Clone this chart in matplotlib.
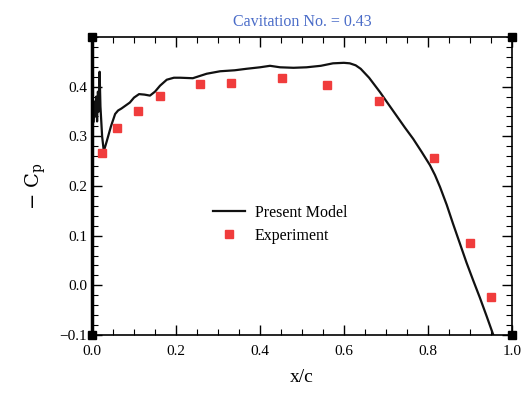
import numpy as np
import matplotlib.pyplot as plt
from matplotlib.ticker import MultipleLocator

plt.rcParams['font.family'] = ['Liberation Serif', 'DejaVu Serif']
plt.rcParams['mathtext.fontset'] = 'dejavuserif'

# present model
x_model = [0.004, 0.006, 0.008, 0.010, 0.012, 0.014, 0.016, 0.018, 0.020, 0.024,
           0.028, 0.035, 0.045, 0.055, 0.062, 0.070, 0.080, 0.090, 0.100, 0.112,
           0.125, 0.138, 0.150, 0.162, 0.178, 0.195, 0.210, 0.240, 0.273, 0.305,
           0.340, 0.368, 0.400, 0.424, 0.448, 0.480, 0.511, 0.545, 0.574, 0.600,
           0.614, 0.628, 0.640, 0.660, 0.686, 0.705, 0.725, 0.745, 0.765, 0.785,
           0.805, 0.817, 0.829, 0.845, 0.860, 0.876, 0.892, 0.908, 0.924, 0.940, 0.956]
cp_model = [0.33, 0.37, 0.34, 0.38, 0.33, 0.39, 0.35, 0.43, 0.36, 0.30,
            0.27, 0.29, 0.32, 0.345, 0.352, 0.356, 0.362, 0.368, 0.378, 0.385,
            0.384, 0.382, 0.390, 0.402, 0.414, 0.418, 0.418, 0.417, 0.426, 0.431,
            0.433, 0.436, 0.439, 0.442, 0.439, 0.438, 0.439, 0.442, 0.447, 0.448,
            0.447, 0.443, 0.436, 0.418, 0.389, 0.366, 0.342, 0.318, 0.295, 0.269,
            0.242, 0.222, 0.198, 0.162, 0.124, 0.085, 0.046, 0.010, -0.025, -0.062, -0.100]

# experiment
x_exp = [0.024, 0.060, 0.110, 0.162, 0.257, 0.330, 0.452, 0.560, 0.683, 0.814, 0.900, 0.950]
cp_exp = [0.267, 0.317, 0.352, 0.382, 0.406, 0.408, 0.418, 0.404, 0.372, 0.257, 0.085, -0.024]

fig = plt.figure(figsize=(5.26, 4.0), dpi=100)
ax = fig.add_axes([0.175, 0.1625, 0.798, 0.745])

ax.plot(x_model, cp_model, color='#111111', lw=1.6, label='Present Model')
ax.plot(x_exp, cp_exp, 's', color='#f03c3c', ms=5.8, label='Experiment')

ax.set_xlim(0, 1.0)
ax.set_ylim(-0.1, 0.5)
ax.set_xticks([0.0, 0.2, 0.4, 0.6, 0.8, 1.0])
ax.set_yticks([-0.1, 0.0, 0.1, 0.2, 0.3, 0.4])
ax.xaxis.set_minor_locator(MultipleLocator(0.05))
ax.yaxis.set_minor_locator(MultipleLocator(0.02))
ax.tick_params(which='both', direction='in', top=True, right=True, labelsize=11)
ax.tick_params(which='major', length=7, width=1)
ax.tick_params(which='minor', length=4, width=0.8)
ax.tick_params(axis='x', pad=7)
for s in ax.spines.values():
    s.set_linewidth(1.2)
ax.spines['left'].set_linewidth(2.5)

ax.set_xlabel('x/c', fontsize=14, labelpad=8)
ax.set_ylabel(r'$-\ \mathrm{C}_{\mathrm{p}}$', fontsize=14, labelpad=8)
ax.set_title('Cavitation No. = 0.43', fontsize=11.5, color='#4a6cc8', pad=8)

# corner squares of the frame
ax.plot([0, 1, 0, 1], [0, 0, 1, 1], 's', color='black', ms=6,
        transform=ax.transAxes, clip_on=False)

ax.legend(loc='upper left', bbox_to_anchor=(0.255, 0.485), frameon=False,
          fontsize=11.5, handlelength=2.0, handletextpad=0.6, labelspacing=0.45,
          numpoints=1)

fig.savefig('out.png', dpi=100)
